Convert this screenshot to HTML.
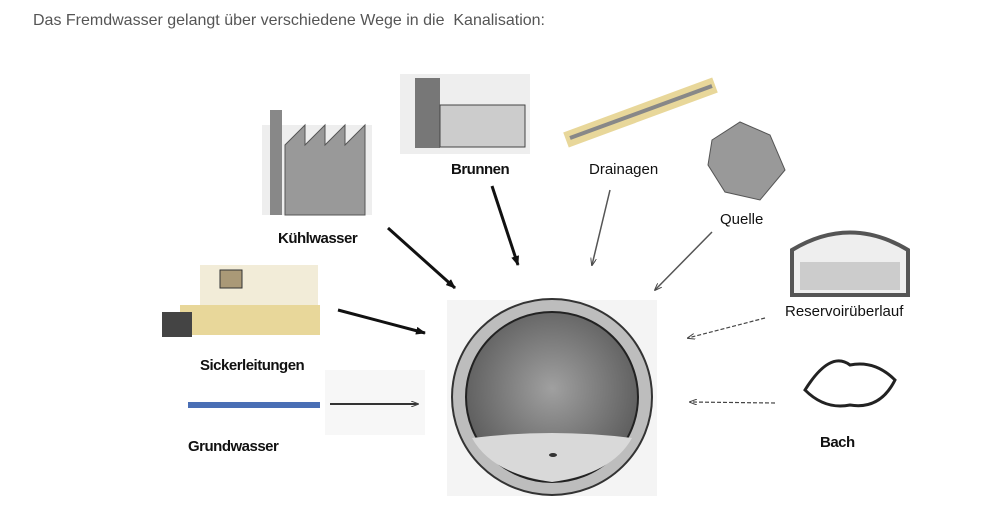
<!DOCTYPE html>
<html><head><meta charset="utf-8"><style>
html,body{margin:0;padding:0;background:#fff;}
body{width:989px;height:529px;overflow:hidden;position:relative;font-family:"Liberation Sans",sans-serif;}
.t{position:absolute;white-space:nowrap;color:#111;}
.b{font-weight:bold;font-size:15px;letter-spacing:-0.5px;}
.r{font-size:15px;}
</style></head><body>
<div class="t" style="left:33px;top:12px;font-size:16px;color:#555;">Das Fremdwasser gelangt über verschiedene Wege in die&nbsp; Kanalisation:</div>
<svg width="989" height="529" style="position:absolute;left:0;top:0">
<defs>
<radialGradient id="g" cx="50%" cy="45%" r="60%"><stop offset="0" stop-color="#a0a0a0"/><stop offset="1" stop-color="#555"/></radialGradient>
<marker id="a" markerWidth="10" markerHeight="8" refX="9" refY="4" orient="auto" markerUnits="userSpaceOnUse"><path d="M0,0 L10,4 L0,8 Z" fill="#111"/></marker>
<marker id="a2" markerWidth="8" markerHeight="6" refX="7" refY="3" orient="auto" markerUnits="userSpaceOnUse"><path d="M0,0 L8,3 L0,6" fill="none" stroke="#444"/></marker>
</defs>
<rect x="447" y="300" width="210" height="196" fill="#f4f4f4"/>
<ellipse cx="552" cy="397" rx="100" ry="98" fill="#bdbdbd" stroke="#333" stroke-width="2"/>
<ellipse cx="552" cy="397" rx="86" ry="85" fill="url(#g)" stroke="#222" stroke-width="2"/>
<path d="M472,438 Q552,428 632,438 Q612,474 552,482 Q492,474 472,438Z" fill="#d9d9d9"/>
<ellipse cx="553" cy="455" rx="4" ry="2" fill="#333"/>
<!-- Kühlwasser factory -->
<rect x="262" y="125" width="110" height="90" fill="#eee"/>
<rect x="270" y="110" width="12" height="105" fill="#888"/>
<path d="M285,215 L285,145 L305,125 L305,145 L325,125 L325,145 L345,125 L345,145 L365,125 L365,215Z" fill="#999" stroke="#555"/>
<!-- Brunnen -->
<rect x="400" y="74" width="130" height="80" fill="#eee"/>
<rect x="415" y="78" width="25" height="70" fill="#777"/>
<rect x="440" y="105" width="85" height="42" fill="#ccc" stroke="#444"/>
<!-- Drainagen -->
<path d="M566,140 L715,85" stroke="#e8d79a" stroke-width="16"/>
<path d="M570,138 L712,86" stroke="#888" stroke-width="4"/>
<!-- Quelle -->
<path d="M712,140 L740,122 L770,135 L785,170 L760,200 L725,192 L708,165Z" fill="#999" stroke="#555"/>
<!-- Reservoir -->
<path d="M792,295 L792,250 Q850,215 908,250 L908,295Z" fill="#eee" stroke="#555" stroke-width="4"/>
<rect x="800" y="262" width="100" height="28" fill="#ccc"/>
<!-- Sickerleitungen -->
<rect x="200" y="265" width="118" height="55" fill="#f2ecd8"/>
<rect x="220" y="270" width="22" height="18" fill="#a97" stroke="#333"/>
<rect x="180" y="305" width="140" height="30" fill="#e8d79a"/>
<rect x="162" y="312" width="30" height="25" fill="#444"/>
<!-- Grundwasser -->
<rect x="325" y="370" width="100" height="65" fill="#f7f7f7"/>
<rect x="188" y="402" width="132" height="6" fill="#4a6fb5"/>
<!-- Bach -->
<path d="M805,390 Q830,350 850,365 Q875,360 895,380 Q880,410 850,405 Q825,410 805,390Z" fill="none" stroke="#222" stroke-width="3"/>
<!-- arrows -->
<line x1="388" y1="228" x2="455" y2="288" stroke="#111" stroke-width="3" marker-end="url(#a)"/>
<line x1="492" y1="186" x2="518" y2="265" stroke="#111" stroke-width="3" marker-end="url(#a)"/>
<line x1="610" y1="190" x2="592" y2="265" stroke="#555" stroke-width="1.5" marker-end="url(#a2)"/>
<line x1="712" y1="232" x2="655" y2="290" stroke="#555" stroke-width="1.5" marker-end="url(#a2)"/>
<line x1="765" y1="318" x2="688" y2="338" stroke="#444" stroke-width="1.2" stroke-dasharray="4,2" marker-end="url(#a2)"/>
<line x1="338" y1="310" x2="425" y2="333" stroke="#111" stroke-width="3" marker-end="url(#a)"/>
<line x1="330" y1="404" x2="418" y2="404" stroke="#333" stroke-width="2" marker-end="url(#a2)"/>
<line x1="775" y1="403" x2="690" y2="402" stroke="#444" stroke-width="1.2" stroke-dasharray="4,2" marker-end="url(#a2)"/>
</svg>
<div class="t b" style="left:278px;top:230px;">Kühlwasser</div>
<div class="t b" style="left:451px;top:161px;">Brunnen</div>
<div class="t r" style="left:589px;top:161px;">Drainagen</div>
<div class="t r" style="left:720px;top:211px;">Quelle</div>
<div class="t r" style="left:785px;top:303px;">Reservoirüberlauf</div>
<div class="t b" style="left:200px;top:357px;">Sickerleitungen</div>
<div class="t b" style="left:188px;top:438px;">Grundwasser</div>
<div class="t b" style="left:820px;top:434px;">Bach</div>
</body></html>
